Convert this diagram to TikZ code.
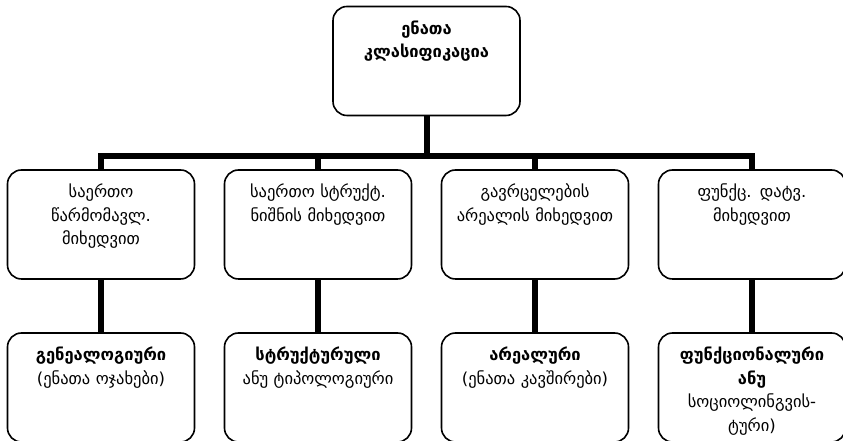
\documentclass[tikz,border=0pt]{standalone}
\usepackage{fontspec}
\setmainfont{DejaVu Sans}
\usetikzlibrary{positioning,calc}

\begin{document}
\begin{tikzpicture}[
    x=1pt, y=1pt,
    node distance=54pt and 30pt,
    block/.style={rectangle, draw, line width=1.6pt, rounded corners=14pt, outer sep=0pt, text width=180pt, inner xsep=3.5pt, inner ysep=0pt, align=center, text height=28pt, text depth=81pt, font=\fontsize{16.5}{23.5}\selectfont},
    line/.style={draw, line width=6pt}
]
    \useasboundingbox (0,0) rectangle (843,441);

    \node [block] (cls) at (426.5,380) {\textbf{ენათა}\\\textbf{კლასიფიკაცია}};

    \node [block] (origin) at (101,216.5) {საერთო\\წარმომავლ.\\მიხედვით};
    \node [block, right=of origin] (struct) {საერთო სტრუქტ.\\ნიშნის მიხედვით};
    \node [block, right=of struct] (area) {გავრცელების\\არეალის მიხედვით};
    \node [block, right=of area] (func) {ფუნქც. დატვ.\\მიხედვით};

    \node [block, below=of origin] (genea) {\textbf{გენეალოგიური}\\(ენათა ოჯახები)};
    \node [block, below=of struct] (typo) {\textbf{სტრუქტურული}\\ანუ ტიპოლოგიური};
    \node [block, below=of area] (areal) {\textbf{არეალური}\\(ენათა კავშირები)};
    \node [block, below=of func] (socio) {\textbf{ფუნქციონალური}\\\textbf{ანუ}\\სოციოლინგვის-\\ტური)};

    \coordinate (bus) at ($(cls.south)+(0,-41)$);
    \foreach \n in {origin,struct,area,func}
        \draw [line] (cls.south) -- (bus) -| (\n.north);

    \draw [line] (origin) -- (genea);
    \draw [line] (struct) -- (typo);
    \draw [line] (area) -- (areal);
    \draw [line] (func) -- (socio);
\end{tikzpicture}
\end{document}
